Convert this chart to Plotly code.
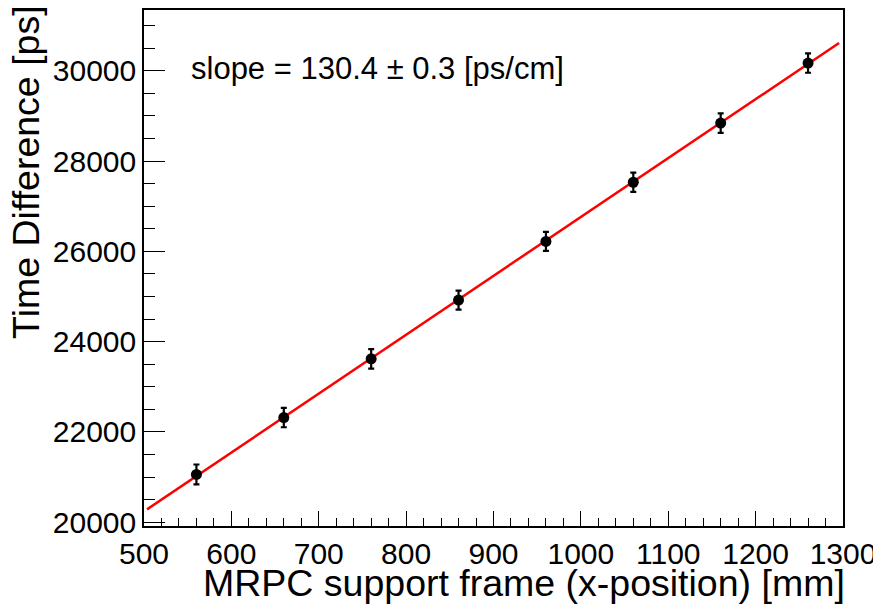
import plotly.graph_objects as go

# ---- data ----
x_pos_mm = [560, 660, 760, 860, 960, 1060, 1160, 1260]
time_diff_ps = [21060, 22320, 23620, 24920, 26220, 27530, 28840, 30170]
time_err_ps = [220, 215, 215, 210, 210, 215, 215, 215]

# linear fit parameters (ps = intercept + slope * mm)
fit_slope_ps_per_mm = 13.04
fit_intercept_ps = 13721
fit_range_mm = [503.5, 1295.5]

slope_label = "slope = 130.4 \u00b1 0.3 [ps/cm]"
x_title = "MRPC support frame (x-position) [mm]"
y_title = "Time Difference [ps]"

FONT = "Liberation Sans, Arial, Helvetica, sans-serif"

fit_y = [fit_intercept_ps + fit_slope_ps_per_mm * v for v in fit_range_mm]

fig = go.Figure()
fig.add_trace(go.Scatter(
    x=fit_range_mm, y=fit_y, mode="lines",
    line=dict(color="#ff0000", width=2.5), showlegend=False, hoverinfo="skip"))
fig.add_trace(go.Scatter(
    x=x_pos_mm, y=time_diff_ps, mode="markers",
    marker=dict(color="black", size=11, symbol="circle"),
    error_y=dict(type="data", array=time_err_ps, visible=True,
                 color="black", thickness=2.2, width=3),
    showlegend=False))

axis_common = dict(
    showgrid=False, zeroline=False, showline=True, linecolor="black",
    linewidth=1.5, mirror=True, ticks="inside", tickcolor="black",
    tickwidth=1.2, tickfont=dict(family=FONT, size=30, color="black"),
    tickformat="d", automargin=False,
)

fig.update_xaxes(
    range=[500, 1300], tick0=500, dtick=100, ticklen=15,
    minor=dict(dtick=20, ticklen=8, ticks="inside", tickcolor="black", tickwidth=1.2),
    **axis_common)
fig.update_yaxes(
    range=[19918, 31344], tick0=20000, dtick=2000, ticklen=21,
    minor=dict(dtick=500, ticklen=11, ticks="inside", tickcolor="black", tickwidth=1.2),
    **axis_common)

fig.add_annotation(
    text=slope_label, xref="paper", yref="paper", x=0.064, y=0.886,
    xanchor="left", yanchor="middle", showarrow=False,
    font=dict(family=FONT, size=31, color="black"))
fig.add_annotation(
    text=x_title, xref="paper", yref="paper", x=1.006, y=-0.11,
    xanchor="right", yanchor="middle", showarrow=False,
    font=dict(family=FONT, size=37.5, color="black"))
fig.add_annotation(
    text=y_title, xref="paper", yref="paper", x=-0.168, y=1.012,
    xanchor="center", yanchor="top", textangle=-90, showarrow=False,
    font=dict(family=FONT, size=37.5, color="black"))

# the page body adds an 8 px offset; margins compensate for it
fig.update_layout(
    width=881, height=604,
    margin=dict(l=135.5, r=45.7, t=2, b=86),
    paper_bgcolor="white", plot_bgcolor="white",
    font=dict(family=FONT, color="black"),
)

fig.write_html("out.html")
